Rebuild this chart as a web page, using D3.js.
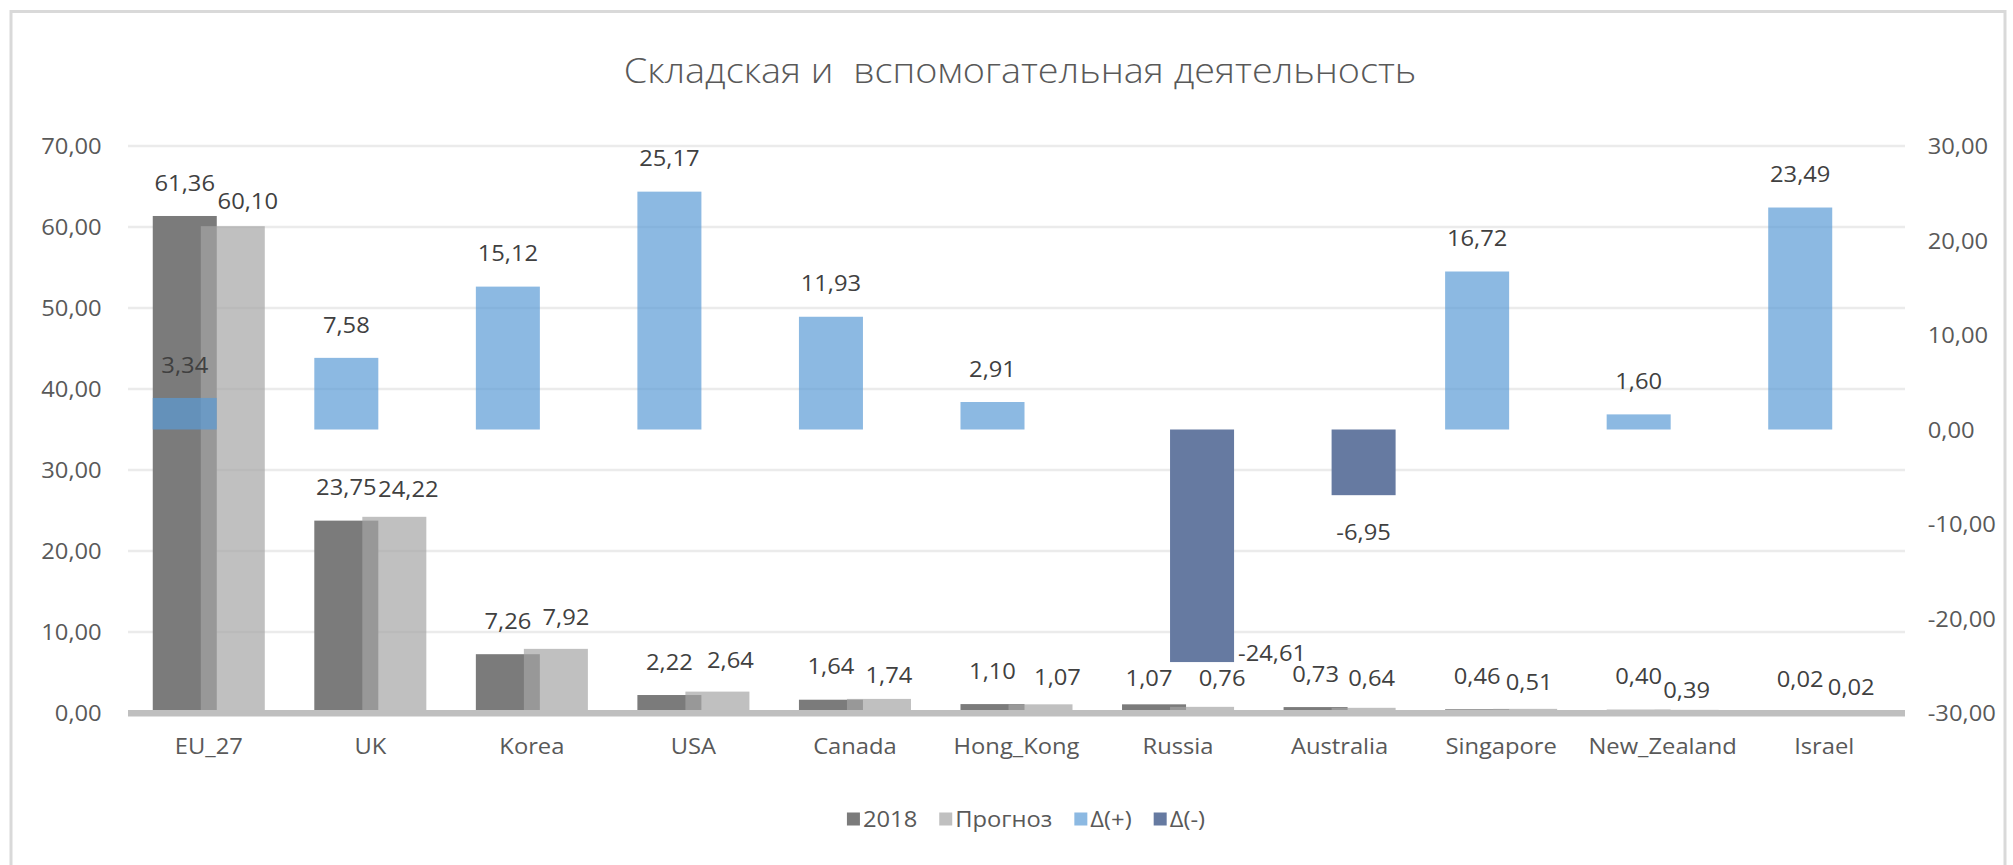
<!DOCTYPE html>
<html>
<head>
<meta charset="utf-8">
<script src="https://cdn.jsdelivr.net/npm/d3@7"></script>
<style>
  html, body { margin: 0; padding: 0; background: #ffffff; }
  svg { display: block; }
  text { font-family: "Open Sans", "Noto Sans", sans-serif; }
</style>
</head>
<body>
<svg id="chart" width="2013" height="865"></svg>
<script>
// ---- data ----
const categories = ["EU_27", "UK", "Korea", "USA", "Canada", "Hong_Kong", "Russia", "Australia", "Singapore", "New_Zealand", "Israel"];
const values2018 = [61.36, 23.75, 7.26, 2.22, 1.64, 1.10, 1.07, 0.73, 0.46, 0.40, 0.02];
const valuesForecast = [60.10, 24.22, 7.92, 2.64, 1.74, 1.07, 0.76, 0.64, 0.51, 0.39, 0.02];
const deltaPlus = [3.34, 7.58, 15.12, 25.17, 11.93, 2.91, null, null, 16.72, 1.60, 23.49];
const deltaMinus = [null, null, null, null, null, null, -24.61, -6.95, null, null, null];
const leftTicks = [0, 10, 20, 30, 40, 50, 60, 70];
const rightTicks = [-30, -20, -10, 0, 10, 20, 30];
const seriesNames = ["2018", "Прогноз", "Δ(+)", "Δ(-)"];
const chartTitle = "Складская и  вспомогательная деятельность";

// ---- hand-placed data label shifts [dx, dy] ----
const shift2018 = { "Russia": [-5, 7] };
const shiftForecast = [[15, 2], [14, 0], [10, -4], [13, -4], [10, 3], [17, 0], [20, -1], [8, -2], [4, 0], [0, 8], [3, 2]];
const shiftMinus = { "Russia": [70, -46] };

// ---- look ----
const colors = { y2018: "#7b7b7b", forecast: "#a5a5a5", plus: "#5b9bd5", minus: "#667aa1" };
const FS = 21.4;          // label font size
const SX = 1.11;          // horizontal text stretch
const CAP = 0.357;        // half cap-height in em (baseline offset for vertical centring)

const svg = d3.select("#chart");
const plot = { left: 128, right: 1905, top: 146, bottom: 713 };

const locale = d3.formatLocale({ decimal: ",", thousands: " ", grouping: [3], currency: ["", ""], minus: "-" });
const fmt = locale.format(".2f");

const x = d3.scaleBand().domain(categories).range([plot.left, plot.right])
  .paddingInner(0.3065).paddingOuter(0.15325);
const barW = x.bandwidth() * 0.5714;
const slotX = (c, s) => x(c) + (s === 0 ? 0 : x.bandwidth() - barW);

const yL = d3.scaleLinear().domain([0, 70]).range([plot.bottom, plot.top]);
const yR = d3.scaleLinear().domain([-30, 30]).range([plot.bottom, plot.top]);

function txt(parent, x0, y0, s, o = {}) {
  const size = o.size || FS;
  return parent.append("text")
    .attr("transform", `translate(${x0},${y0}) scale(${o.sx || SX},1)`)
    .attr("text-anchor", o.anchor || "middle")
    .attr("font-size", size)
    .attr("font-weight", o.weight || 400)
    .attr("fill", o.fill || "#595959")
    .style("white-space", "pre")
    .text(s);
}
// baseline for a text whose cap-height is centred on cy
const base = (cy, size = FS) => cy + CAP * size;

// background + frame
svg.append("rect").attr("x", 0).attr("y", 0).attr("width", 2013).attr("height", 865).attr("fill", "#fff");
svg.append("rect").attr("x", 11).attr("y", 11.5).attr("width", 1994).attr("height", 880)
  .attr("fill", "none").attr("stroke", "#d9d9d9").attr("stroke-width", 3);

// title
const t = txt(svg, 0, 82.7, chartTitle, { size: 34, weight: 300, sx: 1 });
const tl = t.node().getComputedTextLength();
t.attr("transform", `translate(1020,82.7) scale(${793 / tl},1)`);

// gridlines (left axis)
svg.append("g").selectAll("line").data(leftTicks.filter(d => d > 0)).join("line")
  .attr("x1", plot.left).attr("x2", plot.right)
  .attr("y1", d => yL(d)).attr("y2", d => yL(d))
  .attr("stroke", "#ebebeb").attr("stroke-width", 2.6);

// left axis
const axL = svg.append("g").attr("transform", `translate(${plot.left},0)`)
  .call(d3.axisLeft(yL).tickValues(leftTicks).tickFormat(fmt).tickSize(0).tickPadding(0));
axL.select(".domain").remove();
axL.selectAll("text")
  .attr("x", 0).attr("dy", null).attr("y", CAP * FS)
  .attr("transform", `translate(-26.3,0) scale(${SX},1)`)
  .attr("font-size", FS).attr("font-family", null).attr("fill", "#595959");

// right axis
const axR = svg.append("g").attr("transform", `translate(${plot.right},0)`)
  .call(d3.axisRight(yR).tickValues(rightTicks).tickFormat(fmt).tickSize(0).tickPadding(0));
axR.select(".domain").remove();
axR.selectAll("text")
  .attr("x", 0).attr("dy", null).attr("y", CAP * FS)
  .attr("transform", `translate(22.7,0) scale(${SX},1)`)
  .attr("font-size", FS).attr("font-family", null).attr("fill", "#595959");

// primary columns
const idx = d3.range(categories.length);
svg.append("g").selectAll("rect").data(idx).join("rect")
  .attr("x", i => slotX(categories[i], 0)).attr("width", barW)
  .attr("y", i => yL(values2018[i])).attr("height", i => yL(0) - yL(values2018[i]))
  .attr("fill", colors.y2018);
svg.append("g").selectAll("rect").data(idx).join("rect")
  .attr("x", i => slotX(categories[i], 1)).attr("width", barW)
  .attr("y", i => yL(valuesForecast[i])).attr("height", i => yL(0) - yL(valuesForecast[i]))
  .attr("fill", colors.forecast).attr("fill-opacity", 0.7);

// category axis line
svg.append("line").attr("x1", plot.left).attr("x2", plot.right)
  .attr("y1", yL(0) + 0.3).attr("y2", yL(0) + 0.3)
  .attr("stroke", "#bfbfbf").attr("stroke-width", 6.5);

// secondary columns
const plusIdx = idx.filter(i => deltaPlus[i] != null);
const minusIdx = idx.filter(i => deltaMinus[i] != null);
svg.append("g").selectAll("rect").data(plusIdx).join("rect")
  .attr("x", i => slotX(categories[i], 0)).attr("width", barW)
  .attr("y", i => yR(deltaPlus[i])).attr("height", i => yR(0) - yR(deltaPlus[i]))
  .attr("fill", colors.plus).attr("fill-opacity", 0.7);
svg.append("g").selectAll("rect").data(minusIdx).join("rect")
  .attr("x", i => slotX(categories[i], 1)).attr("width", barW)
  .attr("y", yR(0)).attr("height", i => yR(deltaMinus[i]) - yR(0))
  .attr("fill", colors.minus);

// data labels
const lab = svg.append("g");
const LBL = "#404040";
idx.forEach(i => {
  const c = categories[i];
  const s1 = shift2018[c] || [0, 0];
  txt(lab, slotX(c, 0) + barW / 2 + s1[0], base(yL(values2018[i]) - 33 + s1[1]), fmt(values2018[i]), { fill: LBL });
  const s2 = shiftForecast[i];
  txt(lab, slotX(c, 1) + barW / 2 + s2[0], base(yL(valuesForecast[i]) - 27 + s2[1]), fmt(valuesForecast[i]), { fill: LBL });
});
plusIdx.forEach(i => {
  const c = categories[i];
  txt(lab, slotX(c, 0) + barW / 2, base(yR(deltaPlus[i]) - 33), fmt(deltaPlus[i]), { fill: LBL });
});
minusIdx.forEach(i => {
  const c = categories[i];
  const s = shiftMinus[c] || [0, 0];
  txt(lab, slotX(c, 1) + barW / 2 + s[0], base(yR(deltaMinus[i]) + 37 + s[1]), fmt(deltaMinus[i]), { fill: LBL });
});

// category labels
categories.forEach(c => txt(svg, x(c) + x.bandwidth() / 2, base(746.7), c));

// legend
const legendColors = [[colors.y2018, 1], [colors.forecast, 0.7], [colors.plus, 0.7], [colors.minus, 1]];
const lg = svg.append("g");
let cursor = 0;
seriesNames.forEach((name, k) => {
  const item = lg.append("g").attr("transform", `translate(${cursor},0)`);
  item.append("rect").attr("x", 0).attr("y", 812.5).attr("width", 13).attr("height", 13)
    .attr("fill", legendColors[k][0]).attr("fill-opacity", legendColors[k][1]);
  const tt = txt(item, 16, base(819), name, { anchor: "start" });
  const w = tt.node().getComputedTextLength() * SX;
  cursor += 16 + w + 22;
});
const legendW = cursor - 22;
lg.attr("transform", `translate(${1026 - legendW / 2},0)`);
</script>
</body>
</html>
